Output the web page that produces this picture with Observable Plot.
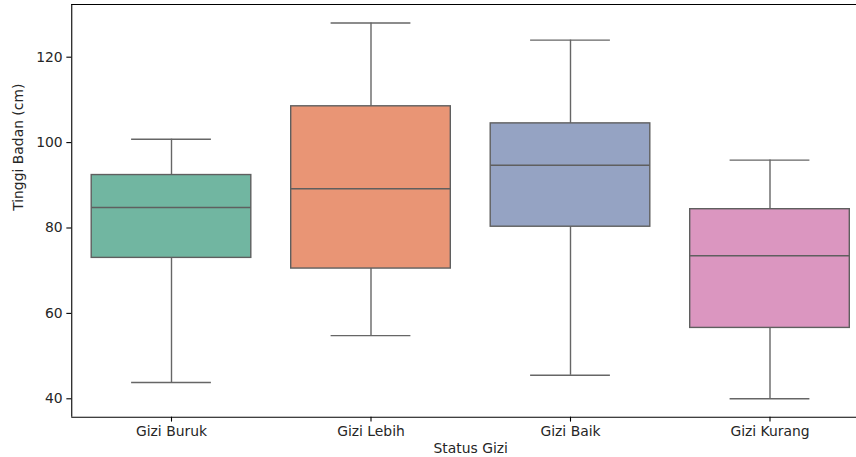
<!DOCTYPE html>
<html>
<head>
<meta charset="utf-8">
<script src="https://cdn.jsdelivr.net/npm/d3@7"></script>
<script src="https://cdn.jsdelivr.net/npm/@observablehq/plot@0.6"></script>
<style>
  html, body { margin: 0; padding: 0; background: #fff; overflow: hidden; }
  #chart { width: 856px; height: 457px; overflow: hidden; position: relative; }
  #chart svg { display: block; max-width: none !important; }
</style>
</head>
<body>
<div id="chart"></div>
<script>
const categories = ["Gizi Buruk", "Gizi Lebih", "Gizi Baik", "Gizi Kurang"];
const whiskerLow = [43.8, 54.8, 45.5, 40.0];
const q1 = [73.0, 70.5, 80.3, 56.6];
const median = [84.8, 89.2, 94.7, 73.5];
const q3 = [92.4, 108.5, 104.5, 84.4];
const whiskerHigh = [100.8, 128.0, 124.0, 95.9];
const colors = ["#71b6a1", "#e99575", "#95a3c3", "#db96c0"];
const yTicks = [40, 60, 80, 100, 120];

const data = categories.map((c, i) => ({
  cat: c, i, lo: whiskerLow[i], q1: q1[i], med: median[i], q3: q3[i], hi: whiskerHigh[i], color: colors[i]
}));

const lineColor = "#666666";
const fs = 13.9;
const textColor = "#262626";

const chart = Plot.plot({
  width: 869.25,
  height: 457,
  marginLeft: 71.25,
  marginRight: 0,
  marginTop: 4,
  marginBottom: 40.3,
  style: { fontFamily: "DejaVu Sans", fontSize: fs + "px", color: textColor, background: "#fff", maxWidth: "none" },
  x: { type: "linear", domain: [-0.5, 3.5], axis: null },
  y: { domain: [35.69, 132.34], axis: null },
  marks: [
    Plot.ruleX(data, { x: "i", y1: "lo", y2: "q1", stroke: lineColor, strokeWidth: 1.4 }),
    Plot.ruleX(data, { x: "i", y1: "q3", y2: "hi", stroke: lineColor, strokeWidth: 1.4 }),
    Plot.ruleY(data, { y: "lo", x1: d => d.i - 0.2, x2: d => d.i + 0.2, stroke: lineColor, strokeWidth: 1.4 }),
    Plot.ruleY(data, { y: "hi", x1: d => d.i - 0.2, x2: d => d.i + 0.2, stroke: lineColor, strokeWidth: 1.4 }),
    Plot.rect(data, { x1: d => d.i - 0.4, x2: d => d.i + 0.4, y1: "q1", y2: "q3", fill: "color", stroke: "#5f5f5f", strokeWidth: 1.4 }),
    Plot.ruleY(data, { y: "med", x1: d => d.i - 0.4, x2: d => d.i + 0.4, stroke: "#5f5f5f", strokeWidth: 1.4 }),
    Plot.ruleY([35.69], { stroke: "#000", strokeWidth: 1.1 }),
    Plot.ruleY([132.34], { stroke: "#000", strokeWidth: 1.1 }),
    Plot.ruleX([-0.5], { y1: 35.69, y2: 132.34, stroke: "#000", strokeWidth: 1.1 }),
    Plot.axisY(yTicks, {
      anchor: "left", tickSize: 4.9, tickPadding: 4.2, label: null,
      stroke: "#000", strokeWidth: 1.1, fill: textColor, fontSize: fs
    }),
    Plot.axisX([0, 1, 2, 3], {
      anchor: "bottom", tickSize: 4.9, tickPadding: 4.5, label: null,
      tickFormat: i => categories[i], stroke: "#000", strokeWidth: 1.1, fill: textColor, fontSize: fs
    }),
    Plot.text(["Tinggi Badan (cm)"], {
      frameAnchor: "left", dx: -53.5, rotate: -90, fill: textColor, fontSize: fs
    }),
    Plot.text(["Status Gizi"], {
      x: 1.5, frameAnchor: "bottom", dy: 36, fill: textColor, fontSize: fs
    })
  ]
});

document.getElementById("chart").appendChild(chart);
</script>
</body>
</html>
